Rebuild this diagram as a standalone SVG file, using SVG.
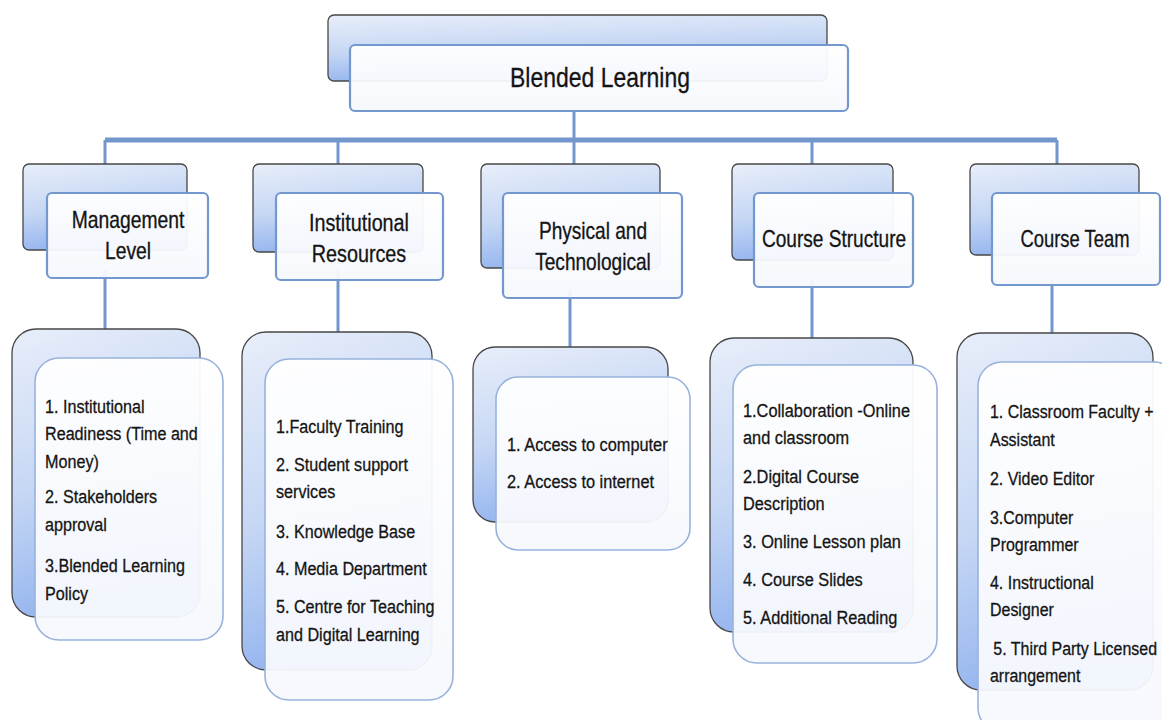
<svg xmlns="http://www.w3.org/2000/svg" width="1162" height="720" viewBox="0 0 1162 720">
<defs>
<linearGradient id="gBack" x1="0" y1="0" x2="0.25" y2="1">
<stop offset="0" stop-color="#e8eefa"/>
<stop offset="0.55" stop-color="#c6d7f4"/>
<stop offset="1" stop-color="#93b4ef"/>
</linearGradient>
<linearGradient id="gFront" x1="0" y1="0" x2="0" y2="1">
<stop offset="0" stop-color="#ffffff"/>
<stop offset="1" stop-color="#f6f8fd"/>
</linearGradient>
</defs>
<style>
.back{fill:url(#gBack);stroke:#474747;stroke-width:1.3}
.front{fill:url(#gFront);fill-opacity:0.95;stroke:#7397cf;stroke-width:2.2}
.front3{fill:url(#gFront);fill-opacity:0.95;stroke:#98b2dc;stroke-width:1.6}
.conn{stroke:#7397cd;stroke-width:3;fill:none}
.bus{stroke:#7397cd;stroke-width:5;fill:none}
.t{font-family:"Liberation Sans",Arial,sans-serif;fill:#141414;stroke:#141414;stroke-width:0.3}
.h1{font-size:28px;text-anchor:middle}
.h2{font-size:23px;text-anchor:middle}
.li{font-size:19px}
</style>
<rect width="1162" height="720" fill="#ffffff"/>
<g id="connectors">
<line class="conn" x1="574" y1="111" x2="574" y2="140"/>
<line class="bus" x1="105" y1="140" x2="1057" y2="140"/>
<line class="conn" x1="105" y1="140" x2="105" y2="165"/>
<line class="conn" x1="338" y1="140" x2="338" y2="165"/>
<line class="conn" x1="574" y1="140" x2="574" y2="165"/>
<line class="conn" x1="812" y1="140" x2="812" y2="165"/>
<line class="conn" x1="1057" y1="140" x2="1057" y2="165"/>
<line class="conn" x1="105" y1="270" x2="105" y2="330"/>
<line class="conn" x1="338" y1="270" x2="338" y2="332"/>
<line class="conn" x1="570" y1="290" x2="570" y2="348"/>
<line class="conn" x1="812" y1="280" x2="812" y2="338"/>
<line class="conn" x1="1052" y1="280" x2="1052" y2="334"/>
</g>
<g id="blended-learning">
<rect class="back" x="328" y="15" width="499" height="66" rx="6"/>
<rect class="front" x="350" y="45" width="498" height="66" rx="5"/>
<g transform="translate(600 0) scale(0.82 1)"><text class="t h1" x="0" y="87">Blended Learning</text></g>
</g>
<g id="management-level">
<rect class="back" x="23" y="164" width="164" height="86" rx="6"/>
<rect class="front" x="47" y="193" width="161" height="85" rx="5"/>
<g transform="translate(128 0) scale(0.84 1)">
<text class="t h2" x="0" y="228">Management</text>
<text class="t h2" x="0" y="259">Level</text>
</g>
</g>
<g id="institutional-resources">
<rect class="back" x="253" y="164" width="170" height="88" rx="6"/>
<rect class="front" x="276" y="193" width="167" height="87" rx="5"/>
<g transform="translate(359 0) scale(0.86 1)">
<text class="t h2" x="0" y="231">Institutional</text>
<text class="t h2" x="0" y="262">Resources</text>
</g>
</g>
<g id="physical-technological">
<rect class="back" x="481" y="164" width="179" height="104" rx="6"/>
<rect class="front" x="503" y="193" width="179" height="105" rx="5"/>
<g transform="translate(593 0) scale(0.83 1)">
<text class="t h2" x="0" y="239">Physical and</text>
<text class="t h2" x="0" y="270">Technological</text>
</g>
</g>
<g id="course-structure">
<rect class="back" x="732" y="164" width="161" height="96" rx="6"/>
<rect class="front" x="754" y="193" width="159" height="94" rx="5"/>
<g transform="translate(834 0) scale(0.83 1)"><text class="t h2" x="0" y="247">Course Structure</text></g>
</g>
<g id="course-team">
<rect class="back" x="970" y="164" width="169" height="91" rx="6"/>
<rect class="front" x="992" y="193" width="168" height="92" rx="5"/>
<g transform="translate(1075 0) scale(0.8 1)"><text class="t h2" x="0" y="247">Course Team</text></g>
</g>
<g id="management-list">
<rect class="back" x="12" y="329" width="188" height="288" rx="24"/>
<rect class="front3" x="35" y="358" width="188" height="282" rx="24"/>
<g transform="translate(45 0) scale(0.85 1)">
<text class="t li" x="0" y="413">1. Institutional</text>
<text class="t li" x="0" y="440">Readiness (Time and</text>
<text class="t li" x="0" y="468">Money)</text>
<text class="t li" x="0" y="503">2. Stakeholders</text>
<text class="t li" x="0" y="531">approval</text>
<text class="t li" x="0" y="572">3.Blended Learning</text>
<text class="t li" x="0" y="600">Policy</text>
</g>
</g>
<g id="institutional-list">
<rect class="back" x="242" y="332" width="190" height="338" rx="24"/>
<rect class="front3" x="265" y="359" width="188" height="341" rx="24"/>
<g transform="translate(276 0) scale(0.85 1)">
<text class="t li" x="0" y="433">1.Faculty Training</text>
<text class="t li" x="0" y="471">2. Student support</text>
<text class="t li" x="0" y="498">services</text>
<text class="t li" x="0" y="538">3. Knowledge Base</text>
<text class="t li" x="0" y="575">4. Media Department</text>
<text class="t li" x="0" y="613">5. Centre for Teaching</text>
<text class="t li" x="0" y="641">and Digital Learning</text>
</g>
</g>
<g id="physical-list">
<rect class="back" x="473" y="347" width="195" height="175" rx="22"/>
<rect class="front3" x="496" y="377" width="194" height="173" rx="22"/>
<g transform="translate(507 0) scale(0.86 1)">
<text class="t li" x="0" y="451">1. Access to computer</text>
<text class="t li" x="0" y="488">2. Access to internet</text>
</g>
</g>
<g id="structure-list">
<rect class="back" x="710" y="338" width="203" height="294" rx="24"/>
<rect class="front3" x="733" y="365" width="204" height="298" rx="24"/>
<g transform="translate(743 0) scale(0.86 1)">
<text class="t li" x="0" y="417">1.Collaboration -Online</text>
<text class="t li" x="0" y="444">and classroom</text>
<text class="t li" x="0" y="483">2.Digital Course</text>
<text class="t li" x="0" y="510">Description</text>
<text class="t li" x="0" y="548">3. Online Lesson plan</text>
<text class="t li" x="0" y="586">4. Course Slides</text>
<text class="t li" x="0" y="624">5. Additional Reading</text>
</g>
</g>
<g id="team-list">
<rect class="back" x="957" y="333" width="196" height="357" rx="24"/>
<rect class="front3" x="978" y="362" width="200" height="370" rx="24"/>
<g transform="translate(990 0) scale(0.84 1)">
<text class="t li" x="0" y="418">1. Classroom Faculty +</text>
<text class="t li" x="0" y="446">Assistant</text>
<text class="t li" x="0" y="485">2. Video Editor</text>
<text class="t li" x="0" y="524">3.Computer</text>
<text class="t li" x="0" y="551">Programmer</text>
<text class="t li" x="0" y="589">4. Instructional</text>
<text class="t li" x="0" y="616">Designer</text>
<text class="t li" x="4" y="655">5. Third Party Licensed</text>
<text class="t li" x="0" y="682">arrangement</text>
</g>
</g>
</svg>
